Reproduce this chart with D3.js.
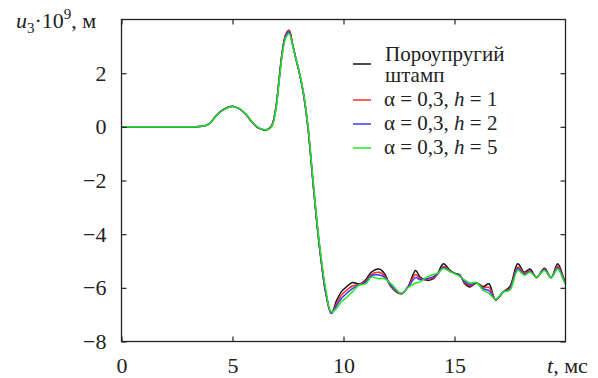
<!DOCTYPE html>
<html>
<head>
<meta charset="utf-8">
<script src="https://cdn.jsdelivr.net/npm/d3@7"></script>
<style>
  body { margin: 0; background: #fff; }
  svg, svg text { font-family: "Liberation Serif", "Times New Roman", Tinos, "DejaVu Serif", "Noto Serif", serif; }
  .axis text { font-size: 22px; fill: #222; }
  .axis line { stroke: #222; stroke-width: 1.2; }
</style>
</head>
<body>
<div id="chart"><svg></svg></div>
<script>
// time, ms
const t = [0, 1, 2, 3, 3.5, 3.8, 4.0, 4.3, 4.6, 5.0, 5.3, 5.6, 5.9, 6.2, 6.5, 6.75, 6.95, 7.1, 7.25, 7.4,
  7.55, 7.7, 7.85, 8.0, 8.2, 8.4, 8.6, 8.8, 9.0, 9.2, 9.45, 9.7, 9.9, 10.15, 10.4, 10.7, 11.0, 11.25, 11.6, 11.85,
  12.15, 12.6, 12.9, 13.25, 13.45, 13.75, 14.05, 14.25, 14.5, 14.8, 15.0, 15.25, 15.45, 15.7, 16.0, 16.3, 16.55, 16.85, 17.2, 17.5,
  17.85, 18.15, 18.4, 18.7, 19.05, 19.35, 19.65, 19.9, 20];

// u3 * 1e9, m
const poroStamp = [0, 0, 0, 0, 0.01, 0.05, 0.15, 0.45, 0.65, 0.77, 0.68, 0.47, 0.15, -0.06, -0.12, 0.02, 0.7, 1.8, 2.85, 3.45,
  3.6, 3.1, 2.55, 2.05, 1.2, -0.05, -1.85, -3.6, -5.05, -6.2, -6.95, -6.45, -6.15, -5.95, -5.8, -5.86, -5.7, -5.42, -5.3, -5.47,
  -5.97, -6.22, -5.97, -5.35, -5.6, -5.72, -5.66, -5.45, -5.1, -5.35, -5.45, -5.52, -5.84, -5.97, -5.82, -5.95, -5.85, -6.45, -6.15, -5.95,
  -5.1, -5.42, -5.3, -5.62, -5.27, -5.62, -5.1, -5.6, -5.85];
const h1 = [0, 0, 0, 0, 0.01, 0.05, 0.15, 0.45, 0.65, 0.77, 0.68, 0.47, 0.15, -0.06, -0.12, 0.02, 0.7, 1.78, 2.83, 3.43,
  3.58, 3.1, 2.56, 2.06, 1.22, -0.03, -1.82, -3.57, -5.02, -6.17, -6.95, -6.56, -6.28, -6.08, -5.93, -5.88, -5.76, -5.5, -5.42, -5.55,
  -5.95, -6.22, -5.97, -5.5, -5.65, -5.7, -5.62, -5.48, -5.2, -5.38, -5.46, -5.54, -5.8, -5.92, -5.83, -6.0, -5.98, -6.44, -6.15, -6.0,
  -5.22, -5.46, -5.36, -5.61, -5.3, -5.62, -5.2, -5.63, -5.85];
const h2 = [0, 0, 0, 0, 0.01, 0.05, 0.15, 0.44, 0.64, 0.76, 0.68, 0.48, 0.16, -0.05, -0.12, 0.0, 0.66, 1.74, 2.78, 3.38,
  3.53, 3.08, 2.56, 2.07, 1.24, 0.0, -1.78, -3.53, -4.98, -6.13, -6.95, -6.64, -6.4, -6.2, -6.03, -5.89, -5.8, -5.55, -5.52, -5.6,
  -5.92, -6.21, -5.98, -5.62, -5.7, -5.66, -5.58, -5.47, -5.24, -5.39, -5.46, -5.56, -5.76, -5.88, -5.82, -6.05, -6.1, -6.43, -6.15, -6.04,
  -5.28, -5.5, -5.39, -5.6, -5.32, -5.62, -5.25, -5.66, -5.85];
const h5 = [0, 0, 0, 0, 0.01, 0.05, 0.14, 0.43, 0.63, 0.76, 0.68, 0.49, 0.17, -0.04, -0.11, -0.01, 0.62, 1.68, 2.72, 3.32,
  3.47, 3.06, 2.56, 2.08, 1.27, 0.05, -1.72, -3.46, -4.9, -6.05, -6.9, -6.75, -6.52, -6.35, -6.15, -5.9, -5.85, -5.6, -5.66, -5.66,
  -5.85, -6.2, -6.0, -5.82, -5.78, -5.6, -5.5, -5.45, -5.28, -5.4, -5.47, -5.58, -5.7, -5.82, -5.8, -6.1, -6.2, -6.42, -6.15, -6.08,
  -5.35, -5.53, -5.42, -5.6, -5.35, -5.62, -5.3, -5.7, -5.85];

const seriesValues = [poroStamp, h1, h2, h5];
const seriesColors = ['#111111', '#ff2a2a', '#3a3aff', '#1ee81e'];
const legendLabels = [
  ['Пороупругий', 'штамп'],
  ['α = 0,3, ', 'h', ' = 1'],
  ['α = 0,3, ', 'h', ' = 2'],
  ['α = 0,3, ', 'h', ' = 5']
];
const xTicks = [0, 5, 10, 15];
const yTicks = [-8, -6, -4, -2, 0, 2];

const width = 598, height = 378;
const margin = { top: 19.5, right: 32.5, bottom: 36.5, left: 121.5 };
const plotW = width - margin.left - margin.right;
const plotH = height - margin.top - margin.bottom;

const svg = d3.select('#chart').select('svg').attr('width', width).attr('height', height);
const main = svg.append('g').attr('transform', `translate(${margin.left}, ${margin.top})`);

const xScale = d3.scaleLinear().domain([0, 20]).range([0, plotW]);
const yScale = d3.scaleLinear().domain([-8, 4]).range([plotH, 0]);

main.append('clipPath').attr('id', 'plot-clip')
  .append('rect').attr('width', plotW).attr('height', plotH);

// curves
const line = d3.line()
  .x((d, i) => xScale(t[i]))
  .y(d => yScale(d))
  .curve(d3.curveCatmullRom.alpha(0.5));

main.append('g').attr('clip-path', 'url(#plot-clip)')
  .selectAll('path').data(seriesValues).enter().append('path')
  .attr('d', d => line(d))
  .attr('fill', 'none')
  .attr('stroke', (d, i) => seriesColors[i])
  .attr('stroke-width', 1.5)
  .attr('stroke-linejoin', 'round');

// axes (ticks inward on all four sides)
main.append('g').attr('class', 'axis').attr('transform', `translate(0, ${plotH})`)
  .call(d3.axisBottom(xScale).tickValues(xTicks).tickSizeInner(-5).tickSizeOuter(0).tickPadding(16));
main.append('g').attr('class', 'axis')
  .call(d3.axisLeft(yScale).tickValues(yTicks).tickSizeInner(-5).tickSizeOuter(0).tickPadding(15));
main.append('g').attr('class', 'axis')
  .call(d3.axisTop(xScale).tickValues(xTicks).tickSizeInner(-5).tickSizeOuter(0).tickFormat(''));
main.append('g').attr('class', 'axis').attr('transform', `translate(${plotW}, 0)`)
  .call(d3.axisRight(yScale).tickValues(yTicks).tickSizeInner(-5).tickSizeOuter(0).tickFormat(''));
main.selectAll('.axis .domain').remove();
main.selectAll('.axis').attr('font-family', null).attr('font-size', null);

main.append('rect')
  .attr('width', plotW).attr('height', plotH)
  .attr('fill', 'none').attr('stroke', '#222').attr('stroke-width', 1.3);

// axis titles
const yTitle = svg.append('text').attr('x', 16).attr('y', 28).attr('font-size', 22).attr('fill', '#222');
yTitle.append('tspan').attr('font-style', 'italic').text('u');
yTitle.append('tspan').attr('font-size', 15).attr('dy', 5).text('3');
yTitle.append('tspan').attr('dy', -5).text('·10');
yTitle.append('tspan').attr('font-size', 15).attr('dy', -9).text('9');
yTitle.append('tspan').attr('dy', 9).text(', м');

const xTitle = svg.append('text').attr('x', 547).attr('y', 373).attr('font-size', 22).attr('fill', '#222');
xTitle.append('tspan').attr('font-style', 'italic').text('t');
xTitle.append('tspan').text(', мс');

// legend
const legend = svg.append('g').attr('font-size', 21).attr('fill', '#222');
const legendLineY = [64, 100, 124, 148];
const legendTextY = [61, 106, 130, 154];
legendLabels.forEach((lab, i) => {
  legend.append('line')
    .attr('x1', 353).attr('x2', 371)
    .attr('y1', legendLineY[i]).attr('y2', legendLineY[i])
    .attr('stroke', seriesColors[i]).attr('stroke-width', 1.5);
  if (i === 0) {
    legend.append('text').attr('x', 385).attr('y', legendTextY[i]).text(lab[0]);
    legend.append('text').attr('x', 385).attr('y', legendTextY[i] + 21).text(lab[1]);
  } else {
    const tx = legend.append('text').attr('x', 384).attr('y', legendTextY[i]);
    tx.append('tspan').text(lab[0]);
    tx.append('tspan').attr('font-style', 'italic').text(lab[1]);
    tx.append('tspan').text(lab[2]);
  }
});
</script>
</body>
</html>
